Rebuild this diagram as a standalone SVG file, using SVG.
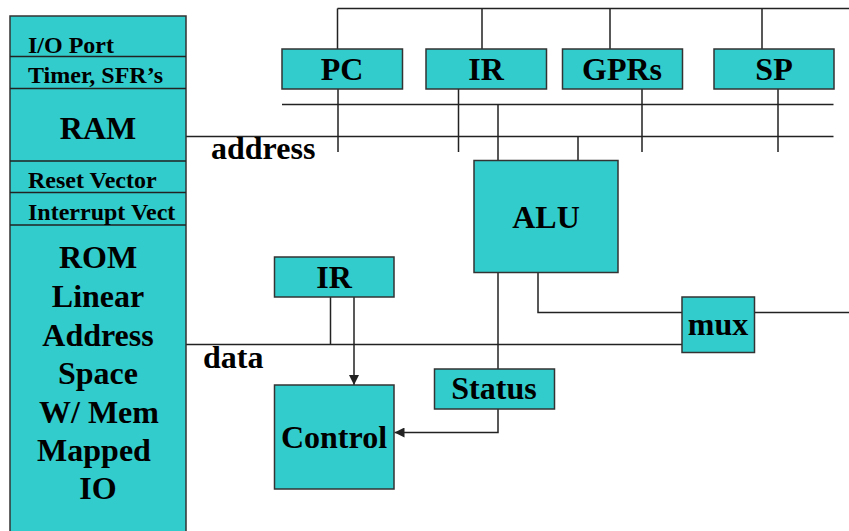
<svg xmlns="http://www.w3.org/2000/svg" width="849" height="531" viewBox="0 0 849 531">
<defs>
<style>
.box{fill:#33CCCC;stroke:#333;stroke-width:1.5}
.ln{fill:none;stroke:#222;stroke-width:1.5}
.t{font-family:"Liberation Serif","Times New Roman",serif;font-weight:bold;fill:#000}
.big{font-size:32px}
.sm{font-size:24px}
.mid{text-anchor:middle}
</style>
<marker id="arr" viewBox="0 0 10 10" refX="10" refY="5" markerWidth="10" markerHeight="10" markerUnits="userSpaceOnUse" orient="auto">
<path d="M0,0 L10,5 L0,10 Z" fill="#222"/>
</marker>
</defs>
<rect width="849" height="531" fill="#fff"/>

<g id="connectors">
<path class="ln" d="M337.5,8.5 H849 M337.5,8.5 V49 M482,8.5 V49 M610,8.5 V49 M762,8.5 V49"/>
<path class="ln" d="M282,104.5 H833.5 M186,136.5 H833.5"/>
<path class="ln" d="M338,89 V152 M458.5,89 V152 M642,89 V152 M778,89 V152"/>
<path class="ln" d="M498,104.5 V160.5 M578,136.5 V160.5"/>
<path class="ln" d="M498,272.5 V369"/>
<path class="ln" d="M538,272.5 V312.5 H682"/>
<path class="ln" d="M754.5,312.5 H849"/>
<path class="ln" d="M186,344.5 H682"/>
<path class="ln" d="M330.5,297 V344.5"/>
<path class="ln" d="M354,297 V385" marker-end="url(#arr)"/>
<path class="ln" d="M498,409 V432.5 H394.5" marker-end="url(#arr)"/>
</g>

<g id="memory">
<rect class="box" x="10" y="16" width="176" height="530"/>
<path class="ln" d="M10,56.5 H186 M10,88.5 H186 M10,161 H186 M10,192.5 H186 M10,225 H186"/>
<text class="t sm" x="28" y="53">I/O Port</text>
<text class="t sm" x="28" y="83">Timer, SFR’s</text>
<text class="t big mid" x="98" y="139">RAM</text>
<text class="t sm" x="28" y="188">Reset Vector</text>
<text class="t sm" x="28" y="220">Interrupt Vect</text>
<text class="t big mid" x="98" y="268">ROM</text>
<text class="t big mid" x="98" y="307">Linear</text>
<text class="t big mid" x="98" y="346">Address</text>
<text class="t big mid" x="98" y="384">Space</text>
<text class="t big mid" x="99" y="423">W/ Mem</text>
<text class="t big mid" x="94" y="461">Mapped</text>
<text class="t big mid" x="98" y="499">IO</text>
</g>

<g id="pc"><rect class="box" x="282" y="49" width="120.5" height="40"/><text class="t big mid" x="342" y="80">PC</text></g>
<g id="ir-top"><rect class="box" x="426" y="49" width="120.5" height="40"/><text class="t big mid" x="486" y="80">IR</text></g>
<g id="gprs"><rect class="box" x="562.5" y="49" width="120" height="40"/><text class="t big mid" x="622" y="80">GPRs</text></g>
<g id="sp"><rect class="box" x="714" y="49" width="120" height="40"/><text class="t big mid" x="774" y="80">SP</text></g>
<g id="alu"><rect class="box" x="474" y="160.5" width="144" height="112"/><text class="t big mid" x="546" y="228">ALU</text></g>
<g id="ir-low"><rect class="box" x="274.5" y="257" width="119.5" height="40"/><text class="t big mid" x="334" y="288">IR</text></g>
<g id="control"><rect class="box" x="274.5" y="385" width="119.5" height="104"/><text class="t big mid" x="334" y="448">Control</text></g>
<g id="status"><rect class="box" x="434.5" y="369" width="120" height="40"/><text class="t big mid" x="494" y="399">Status</text></g>
<g id="mux"><rect class="box" x="682" y="297" width="72.5" height="55.5"/><text class="t big mid" x="718" y="335">mux</text></g>

<g id="labels">
<text class="t big" x="211" y="159">address</text>
<text class="t big" x="203" y="368">data</text>
</g>
</svg>
